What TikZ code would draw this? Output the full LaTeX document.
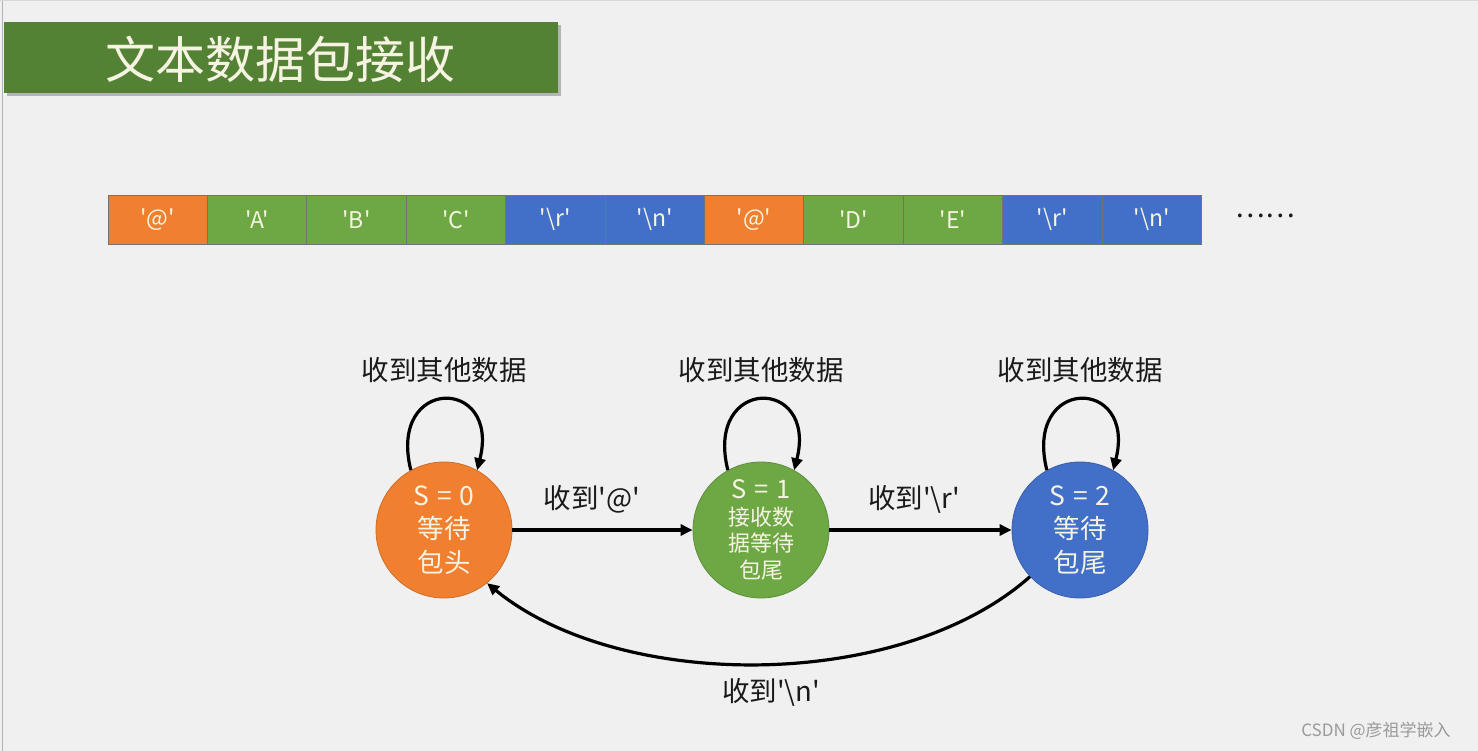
\documentclass[tikz,border=0pt]{standalone}
\usepackage{fontspec}
\setmainfont{Noto Sans CJK SC}[Ligatures=TeXOff]
\usetikzlibrary{shadows,arrows.meta}
\definecolor{bg}{HTML}{F0F0F0}
\definecolor{ttlgreen}{HTML}{548235}
\definecolor{corg}{HTML}{F08030}
\definecolor{cgrn}{HTML}{6DA845}
\definecolor{cblu}{HTML}{4270C8}
\definecolor{txtlight}{HTML}{F7F3E3}
\definecolor{lbltxt}{HTML}{1A1A1A}
\definecolor{wmark}{HTML}{9A9A9A}
\newcommand{\eqsp}{\hspace{8pt}=\hspace{8pt}}
\begin{document}
\begin{tikzpicture}[x=1pt,y=1pt,
  state/.style={circle,minimum size=136pt,inner sep=0pt,text=txtlight,align=center},
  cell/.style={minimum width=99.4pt,minimum height=49pt,inner sep=0pt,draw=black!55,line width=0.8pt,text=txtlight,font=\fontsize{23}{24}\selectfont},
  arr/.style={line width=3.2pt,draw=black,-{Triangle[length=12pt,width=11pt]}},
  lbl/.style={text=lbltxt,font=\fontsize{27.5}{30}\selectfont,inner sep=0pt}]
\fill[bg] (0,0) rectangle (1478,-751);
\useasboundingbox (0,0) rectangle (1478,-751);
\draw[black!30,line width=1pt] (2.5,0) -- (2.5,-751);
\draw[black!15,line width=1pt] (0,-0.5) -- (1478,-0.5);
% title
\node[fill=ttlgreen,minimum width=554pt,minimum height=71pt,inner sep=0pt,
  drop shadow={shadow xshift=3pt,shadow yshift=-3pt,fill=black!45,opacity=0.6}]
  (title) at (281,-57.5) {};
\node[text=txtlight,font=\fontsize{50}{52}\selectfont,inner sep=0pt] (titletext) at (280,-59) {文本数据包接收};
% data bar
\foreach \t/\c [count=\i] in {'@'/corg,'A'/cgrn,'B'/cgrn,'C'/cgrn,{'\textbackslash r'}/cblu,{'\textbackslash n'}/cblu,'@'/corg,'D'/cgrn,'E'/cgrn,{'\textbackslash r'}/cblu,{'\textbackslash n'}/cblu}{
  \node[cell,fill=\c] (c\i) at ({108+99.4*(\i-0.5)},-219.5) {\t};
}
\node[text=lbltxt,font=\fontsize{28}{30}\selectfont,inner sep=0pt] (dots) at (1265,-216) {……};
% states
\node[state,fill=corg,draw=corg!85!black,line width=0.8pt,font=\fontsize{26.5}{33.5}\selectfont] (s0) at (444,-530) {S\eqsp0\\等待\\包头};
\node[state,fill=cgrn,draw=cgrn!85!black,line width=0.8pt,font=\fontsize{22}{26.5}\selectfont] (s1) at (761,-530) {{\fontsize{25.5}{26.5}\selectfont S\eqsp1}\\接收数\\据等待\\包尾};
\node[state,fill=cblu,draw=cblu!85!black,line width=0.8pt,font=\fontsize{26.5}{33.5}\selectfont] (s2) at (1080,-530) {S\eqsp2\\等待\\包尾};
% self loops
\draw[arr] (s0.119) to[out=104,in=76,looseness=3.75] (s0.61);
\draw[arr] (s1.119) to[out=104,in=76,looseness=3.75] (s1.61);
\draw[arr] (s2.119) to[out=104,in=76,looseness=3.75] (s2.61);
\node[lbl] (l0) at (444,-370) {收到其他数据};
\node[lbl] (l1) at (761,-370) {收到其他数据};
\node[lbl] (l2) at (1080,-370) {收到其他数据};
% transitions
\draw[arr] (s0) -- (s1);
\draw[arr] (s1) -- (s2);
\node[lbl] (e01) at (592,-499) {收到'@'};
\node[lbl] (e12) at (914,-499) {收到'\textbackslash r'};
\draw[arr] (s2.223) .. controls (900,-692) and (620,-692) .. (s0.309);
\node[lbl] (e20) at (771,-692) {收到'\textbackslash n'};
% watermark
\node[text=wmark,font=\fontsize{17}{18}\selectfont,inner sep=0pt] (wm) at (1376,-731) {CSDN @彦祖学嵌入};
\end{tikzpicture}
\end{document}
